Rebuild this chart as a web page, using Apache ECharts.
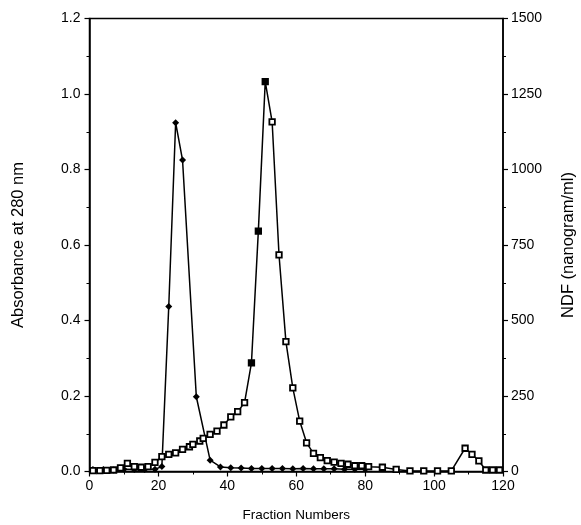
<!DOCTYPE html>
<html>
<head>
<meta charset="utf-8">
<script src="https://cdn.jsdelivr.net/npm/echarts@6/dist/echarts.min.js"></script>
<style>
  html, body { margin: 0; padding: 0; background: #fff; }
  #chart { width: 581px; height: 525px; }
</style>
</head>
<body>
<div id="chart"></div>
<script>
// Absorbance at 280 nm (left axis), filled diamonds
const absFractions = [1, 4, 7, 10, 13, 16, 19, 21, 23, 25, 27, 31, 35, 38, 41, 44, 47, 50, 53, 56, 59, 62, 65, 68, 71, 74, 77, 80];
const absValues    = [0.005, 0.005, 0.004, 0.006, 0.005, 0.005, 0.006, 0.013, 0.437, 0.924, 0.825, 0.198, 0.030, 0.012, 0.010, 0.009, 0.008, 0.008, 0.008, 0.008, 0.007, 0.008, 0.007, 0.007, 0.007, 0.006, 0.006, 0.006];

// NDF concentration in nanogram/ml (right axis), square markers
const ndfFractions = [1, 3, 5, 7, 9, 11, 13, 15, 17, 19, 21, 23, 25, 27, 29, 30, 32, 33, 35, 37, 39, 41, 43, 45, 47, 49, 51, 53, 55, 57, 59, 61, 63, 65, 67, 69, 71, 73, 75, 77, 79, 81, 85, 89, 93, 97, 101, 105, 109, 111, 113, 115, 117, 119];
const ndfValues    = [3, 3, 4, 5, 12, 27, 16, 14, 16, 30, 49, 57, 62, 73, 82, 90, 101, 110, 123, 134, 154, 181, 198, 228, 360, 796, 1291, 1158, 717, 430, 277, 167, 95, 60, 46, 36, 31, 27, 24, 19, 19, 16, 14, 7, 2, 2, 2, 2, 77, 57, 35, 5, 5, 5];
// tubes drawn with solid squares
const ndfSolid = [47, 49, 51];

const xTicks = { min: 0, max: 120, interval: 20 };
const absTicks = { min: 0, max: 1.2, interval: 0.2 };
const ndfTicks = { min: 0, max: 1500, interval: 250 };

const font = 'Liberation Sans, Arial, Helvetica, sans-serif';
const ink = '#000';

const absData = absFractions.map((f, i) => [f, absValues[i]]);
const ndfData = ndfFractions.map((f, i) => {
  const solid = ndfSolid.indexOf(f) >= 0;
  return { value: [f, ndfValues[i]], itemStyle: { color: solid ? ink : '#fff' } };
});

const axisCommon = {
  axisLine: { show: true, lineStyle: { color: ink, width: 1.5 } },
  axisTick: { show: true, inside: false, length: 5, lineStyle: { color: ink, width: 1.2 } },
  minorTick: { show: true, splitNumber: 2, length: 3, lineStyle: { color: ink, width: 1 } },
  splitLine: { show: false },
  axisLabel: { color: ink, fontFamily: font, fontSize: 14 },
  nameTextStyle: { color: ink, fontFamily: font, fontSize: 13.5 }
};
const sideName = { color: ink, fontFamily: font, fontSize: 16.5 };

const chart = echarts.init(document.getElementById('chart'), null, { renderer: 'canvas' });
chart.setOption({
  animation: false,
  backgroundColor: '#fff',
  grid: {
    left: 89.5, right: 78, top: 18.5, bottom: 53.5,
    outerBoundsMode: 'none', containLabel: false,
    show: true, borderColor: ink, borderWidth: 1.5, backgroundColor: 'transparent'
  },
  xAxis: Object.assign({}, axisCommon, {
    type: 'value',
    min: xTicks.min, max: xTicks.max, interval: xTicks.interval,
    name: 'Fraction Numbers', nameLocation: 'middle', nameGap: 37,
    axisLabel: Object.assign({}, axisCommon.axisLabel, { margin: 8 })
  }),
  yAxis: [
    Object.assign({}, axisCommon, {
      type: 'value', position: 'left',
      min: absTicks.min, max: absTicks.max, interval: absTicks.interval,
      name: 'Absorbance at 280 nm', nameLocation: 'middle', nameGap: 63, nameRotate: 90,
      nameTextStyle: sideName,
      axisLabel: Object.assign({}, axisCommon.axisLabel, {
        margin: 9, formatter: v => v.toFixed(1)
      })
    }),
    Object.assign({}, axisCommon, {
      type: 'value', position: 'right',
      min: ndfTicks.min, max: ndfTicks.max, interval: ndfTicks.interval,
      name: 'NDF (nanogram/ml)', nameLocation: 'middle', nameGap: 57, nameRotate: 90,
      nameTextStyle: sideName,
      axisLabel: Object.assign({}, axisCommon.axisLabel, {
        margin: 8, formatter: v => String(v)
      })
    })
  ],
  series: [
    {
      name: 'Absorbance', type: 'line', yAxisIndex: 0,
      data: absData,
      symbol: 'diamond', symbolSize: 7, showSymbol: true,
      lineStyle: { color: ink, width: 1.5 },
      itemStyle: { color: ink, borderColor: ink, borderWidth: 0 },
      z: 3
    },
    {
      name: 'NDF', type: 'line', yAxisIndex: 1,
      data: ndfData,
      symbol: 'rect', symbolSize: 5.5, showSymbol: true,
      lineStyle: { color: ink, width: 1.5 },
      itemStyle: { color: '#fff', borderColor: ink, borderWidth: 1.8 },
      z: 4
    }
  ]
});
</script>
</body>
</html>
